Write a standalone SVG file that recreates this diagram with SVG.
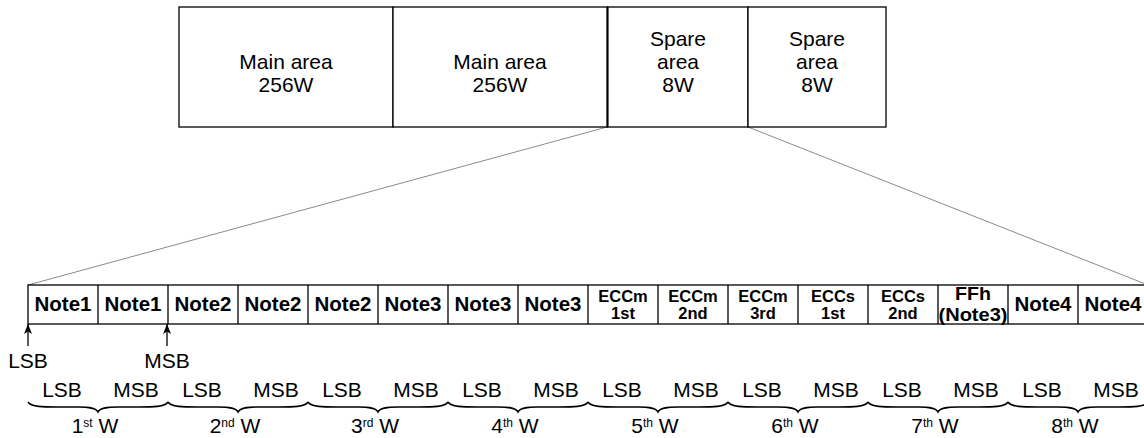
<svg xmlns="http://www.w3.org/2000/svg" width="1144" height="438" viewBox="0 0 1144 438">
<style>
.box{fill:#fff;stroke:#000;stroke-width:1.3}
.t{font-family:"Liberation Sans",Arial,sans-serif;fill:#000;text-anchor:middle}
.top{font-size:21px}
.nb{font-size:20.5px;font-weight:bold}
.eb{font-size:16.5px;font-weight:bold}
.fb{font-size:18px;font-weight:bold}
.lbl{font-size:21px}
.dim{stroke:#000;stroke-width:1.3;fill:none;marker-start:url(#ah);marker-end:url(#ah)}
.up{stroke:#000;stroke-width:1.3;fill:none;marker-end:url(#ah)}
.zoom{stroke:#8c8c8c;stroke-width:1;fill:none}
.brace{stroke:#000;stroke-width:1.6;fill:none}
</style>
<defs>
<marker id="ah" viewBox="0 0 10 8" refX="10" refY="4" markerWidth="10" markerHeight="8" markerUnits="userSpaceOnUse" orient="auto-start-reverse">
<path d="M0,0 L10,4 L0,8 L2.5,4 Z" fill="#000"/>
</marker>
</defs>
<g id="connectors">
<line class="zoom" x1="607" y1="127" x2="28" y2="285"/>
<line class="zoom" x1="748" y1="127" x2="1148" y2="285"/>
<line class="dim" x1="180" y1="102" x2="392" y2="102"/>
<line class="dim" x1="395" y1="102" x2="606" y2="102"/>
<line class="dim" x1="609" y1="102" x2="747" y2="102"/>
<line class="dim" x1="750" y1="102" x2="885" y2="102"/>
<line class="up" x1="28" y1="346" x2="28" y2="324"/>
<line class="up" x1="167" y1="346" x2="167" y2="324"/>
</g>
<g id="main1"><rect class="box" x="179" y="7" width="214" height="120"/>
<text class="t top" x="286" y="69">Main area</text><text class="t top" x="286" y="92">256W</text></g>
<g id="main2"><rect class="box" x="393" y="7" width="214.5" height="120"/>
<text class="t top" x="500" y="69">Main area</text><text class="t top" x="500" y="92">256W</text></g>
<g id="spare1"><rect class="box" x="607.5" y="7" width="140.5" height="120"/>
<line x1="607.5" y1="7" x2="607.5" y2="127" stroke="#000" stroke-width="2"/>
<text class="t top" x="678" y="46">Spare</text><text class="t top" x="678" y="69">area</text><text class="t top" x="678" y="92">8W</text></g>
<g id="spare2"><rect class="box" x="748" y="7" width="138" height="120"/>
<text class="t top" x="817" y="46">Spare</text><text class="t top" x="817" y="69">area</text><text class="t top" x="817" y="92">8W</text></g>
<g id="table">
<rect class="box" x="28" y="285" width="1120" height="39"/>
<g stroke="#000" stroke-width="1.3">
<line x1="98" y1="285" x2="98" y2="324"/><line x1="168" y1="285" x2="168" y2="324"/>
<line x1="238" y1="285" x2="238" y2="324"/><line x1="308" y1="285" x2="308" y2="324"/>
<line x1="378" y1="285" x2="378" y2="324"/><line x1="448" y1="285" x2="448" y2="324"/>
<line x1="518" y1="285" x2="518" y2="324"/><line x1="588" y1="285" x2="588" y2="324"/>
<line x1="658" y1="285" x2="658" y2="324"/><line x1="728" y1="285" x2="728" y2="324"/>
<line x1="798" y1="285" x2="798" y2="324"/><line x1="868" y1="285" x2="868" y2="324"/>
<line x1="938" y1="285" x2="938" y2="324"/><line x1="1008" y1="285" x2="1008" y2="324"/>
<line x1="1078" y1="285" x2="1078" y2="324"/>
</g>
<text class="t nb" x="63" y="311">Note1</text>
<text class="t nb" x="133" y="311">Note1</text>
<text class="t nb" x="203" y="311">Note2</text>
<text class="t nb" x="273" y="311">Note2</text>
<text class="t nb" x="343" y="311">Note2</text>
<text class="t nb" x="413" y="311">Note3</text>
<text class="t nb" x="483" y="311">Note3</text>
<text class="t nb" x="553" y="311">Note3</text>
<text class="t eb" x="623" y="302">ECCm</text><text class="t eb" x="623" y="319">1st</text>
<text class="t eb" x="693" y="302">ECCm</text><text class="t eb" x="693" y="319">2nd</text>
<text class="t eb" x="763" y="302">ECCm</text><text class="t eb" x="763" y="319">3rd</text>
<text class="t eb" x="833" y="302">ECCs</text><text class="t eb" x="833" y="319">1st</text>
<text class="t eb" x="903" y="302">ECCs</text><text class="t eb" x="903" y="319">2nd</text>
<text class="t fb" x="973" y="300" textLength="36" lengthAdjust="spacingAndGlyphs">FFh</text>
<text class="t fb" x="973" y="320.5" textLength="69" lengthAdjust="spacingAndGlyphs">(Note3)</text>
<text class="t nb" x="1043" y="311">Note4</text>
<text class="t nb" x="1113" y="311">Note4</text>
</g>
<g id="bitlabels">
<text class="t lbl" x="28" y="368">LSB</text>
<text class="t lbl" x="167" y="368">MSB</text>
</g>
<g id="words">
<g class="t lbl">
<text x="62" y="397">LSB</text><text x="136" y="397">MSB</text>
<text x="202" y="397">LSB</text><text x="276" y="397">MSB</text>
<text x="342" y="397">LSB</text><text x="416" y="397">MSB</text>
<text x="482" y="397">LSB</text><text x="556" y="397">MSB</text>
<text x="622" y="397">LSB</text><text x="696" y="397">MSB</text>
<text x="762" y="397">LSB</text><text x="836" y="397">MSB</text>
<text x="902" y="397">LSB</text><text x="976" y="397">MSB</text>
<text x="1042" y="397">LSB</text><text x="1116" y="397">MSB</text>
</g>
<g class="brace">
<path d="M28,402 C31,407 43,407 58,407 L78,407 C90,407 96,408 98,412 C100,408 106,407 118,407 L138,407 C153,407 165,407 168,402"/>
<path d="M168,402 C171,407 183,407 198,407 L218,407 C230,407 236,408 238,412 C240,408 246,407 258,407 L278,407 C293,407 305,407 308,402"/>
<path d="M308,402 C311,407 323,407 338,407 L358,407 C370,407 376,408 378,412 C380,408 386,407 398,407 L418,407 C433,407 445,407 448,402"/>
<path d="M448,402 C451,407 463,407 478,407 L498,407 C510,407 516,408 518,412 C520,408 526,407 538,407 L558,407 C573,407 585,407 588,402"/>
<path d="M588,402 C591,407 603,407 618,407 L638,407 C650,407 656,408 658,412 C660,408 666,407 678,407 L698,407 C713,407 725,407 728,402"/>
<path d="M728,402 C731,407 743,407 758,407 L778,407 C790,407 796,408 798,412 C800,408 806,407 818,407 L838,407 C853,407 865,407 868,402"/>
<path d="M868,402 C871,407 883,407 898,407 L918,407 C930,407 936,408 938,412 C940,408 946,407 958,407 L978,407 C993,407 1005,407 1008,402"/>
<path d="M1008,402 C1011,407 1023,407 1038,407 L1058,407 C1070,407 1076,408 1078,412 C1080,408 1086,407 1098,407 L1118,407 C1133,407 1145,407 1148,402"/>
</g>
<g class="t lbl">
<text x="95" y="433">1<tspan font-size="12" dy="-6">st</tspan><tspan dy="6"> W</tspan></text>
<text x="235" y="433">2<tspan font-size="12" dy="-6">nd</tspan><tspan dy="6"> W</tspan></text>
<text x="375" y="433">3<tspan font-size="12" dy="-6">rd</tspan><tspan dy="6"> W</tspan></text>
<text x="515" y="433">4<tspan font-size="12" dy="-6">th</tspan><tspan dy="6"> W</tspan></text>
<text x="655" y="433">5<tspan font-size="12" dy="-6">th</tspan><tspan dy="6"> W</tspan></text>
<text x="795" y="433">6<tspan font-size="12" dy="-6">th</tspan><tspan dy="6"> W</tspan></text>
<text x="935" y="433">7<tspan font-size="12" dy="-6">th</tspan><tspan dy="6"> W</tspan></text>
<text x="1075" y="433">8<tspan font-size="12" dy="-6">th</tspan><tspan dy="6"> W</tspan></text>
</g>
</g>
</svg>
